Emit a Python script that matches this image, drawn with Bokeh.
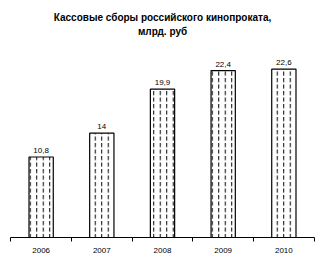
import numpy as np
from bokeh.plotting import figure
from bokeh.models import Range1d, FixedTicker, Label, ColumnDataSource
from bokeh.embed import file_html
from bokeh.resources import INLINE
from bokeh.core.properties import value

years = ["2006", "2007", "2008", "2009", "2010"]
revenue = [10.8, 14.0, 19.9, 22.4, 22.6]
value_labels = ["10,8", "14", "19,9", "22,4", "22,6"]
title_lines = ["Кассовые сборы российского кинопроката,", "млрд. руб"]

FONT = "Liberation Sans"
x = np.arange(len(years)) + 0.5

p = figure(width=324, height=266, output_backend="svg", toolbar_location=None,
           x_range=Range1d(-0.005, len(years) + 0.005), y_range=Range1d(0, 31.8),
           min_border_left=10, min_border_right=10, min_border_top=0,
           min_border_bottom=29)
p.outline_line_color = None
p.xgrid.visible = False
p.ygrid.visible = False
p.yaxis.visible = False
p.background_fill_color = "white"
p.border_fill_color = "white"

src = ColumnDataSource(dict(x=x, top=revenue, lab=value_labels))
p.vbar(x="x", top="top", width=0.40, source=src, fill_color="white",
       line_color="black", line_width=1.2, hatch_pattern=":",
       hatch_color="black", hatch_scale=6.5, hatch_weight=1)
p.text(x="x", y="top", text="lab", source=src, text_align="center",
       text_baseline="bottom", y_offset=-4, text_font=value(FONT),
       text_font_size="8px", text_color="black")

ax = p.xaxis[0]
ax.ticker = FixedTicker(ticks=list(x), minor_ticks=list(range(len(years) + 1)))
ax.major_label_overrides = {float(v): y for v, y in zip(x, years)}
ax.major_tick_line_color = None
ax.major_tick_out = 0
ax.major_tick_in = 0
ax.minor_tick_out = 4
ax.minor_tick_in = 0
ax.minor_tick_line_color = "black"
ax.axis_line_color = "black"
ax.axis_line_width = 1
ax.major_label_standoff = 6
ax.major_label_text_font = FONT
ax.major_label_text_font_size = "8px"
ax.major_label_text_color = "black"

for txt, yy in zip(title_lines, [29.53, 27.65]):
    p.add_layout(Label(x=2.5, y=yy, text=txt, text_align="center",
                       text_baseline="middle", text_font=FONT,
                       text_font_size="10px", text_font_style="bold",
                       text_color="black"))

open("out.html", "w").write(file_html(p, INLINE))
